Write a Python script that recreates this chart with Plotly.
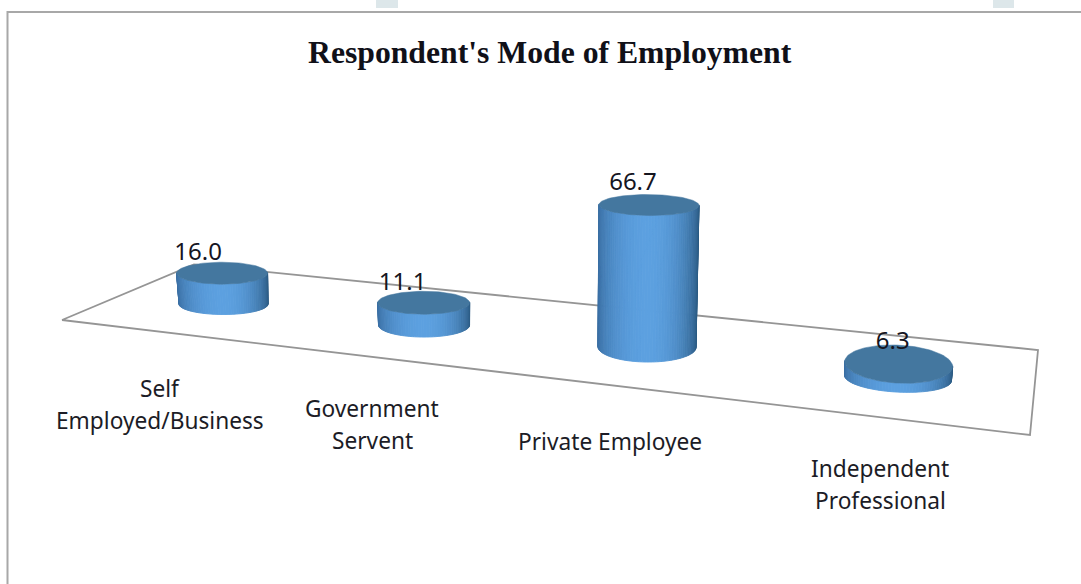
import numpy as np
import plotly.graph_objects as go

# Chart content
title = "Respondent's Mode of Employment"
categories = ["Self<br>Employed/Business", "Government<br>Servent", "Private Employee", "Independent<br>Professional"]
values = [16.0, 11.1, 66.7, 6.3]

# Camera: canvas pixels of the floor corners (left-front, right-front, right-back, left-back)
FLOOR = [(62, 320), (1030, 435), (1038, 350), (194, 264.5)]
VERTICAL_VP = (549.0, 7305.0)
Z_GAIN = -0.02 / 66.7

# Where each cylinder stands on the floor: along the axis, and front (0) to back (1)
axis_pos = [0.516, 1.494, 2.479, 3.498]
depth_row = [0.448, 0.462, 0.494, 0.451]

# Elliptical outlines of the cylinders on screen
top_rx = [45.5, 46.0, 50.0, 54.0]
top_ry = [11.0, 11.5, 10.5, 19.0]
base_rx = [44.5, 45.5, 49.0, 53.5]
base_ry = [10.5, 12.0, 15.0, 14.0]
tilt_deg = [0.0, 0.0, 0.5, 3.0]

# Offsets of labels relative to the projected anchor
value_offsets = [(-24, -19), (-21, -18.5), (-16, -21), (-6, -21)]
cat_label_x = [160, 372, 610, 880]
cat_label_y = [388, 408, 441, 468]
LINE_STEP = 32


def floor_homography(corners):
    src = [(0, 0), (4, 0), (4, 1), (0, 1)]
    A, b = [], []
    for (u, v), (x, y) in zip(src, corners):
        A.append([u, v, 1, 0, 0, 0, -u * x, -v * x])
        A.append([0, 0, 0, u, v, 1, -u * y, -v * y])
        b += [x, y]
    h = np.linalg.solve(np.array(A, float), np.array(b, float))
    return np.array([[h[0], h[1], h[2]], [h[3], h[4], h[5]], [h[6], h[7], 1.0]])


H = floor_homography(FLOOR)
w_mid = H[2] @ np.array([2.5, 0.5, 1.0])
z_col = Z_GAIN * w_mid * np.array([VERTICAL_VP[0], VERTICAL_VP[1], 1.0])


def project(u, v, z):
    """Chart space (category position, depth, value) to axis coordinates."""
    p = H @ np.array([u, v, 1.0]) + z_col * z
    return p[0] / p[2], p[1] / p[2]


def ellipse(center, rx, ry, tilt, angles):
    cx, cy = center
    phi = np.radians(tilt)
    ex, ey = rx * np.cos(angles), ry * np.sin(angles)
    return cx + ex * np.cos(phi) - ey * np.sin(phi), cy + ex * np.sin(phi) + ey * np.cos(phi)


def mix(c0, c1, t):
    return "rgb({},{},{})".format(*[int(round(a + (b - a) * t)) for a, b in zip(c0, c1)])


LEFT_EDGE = (56, 108, 160)
CENTER = (92, 160, 224)
RIGHT_EDGE = (42, 88, 128)
CAP = "#44779f"

fig = go.Figure()


def add_poly(xs, ys, color, edge=0.9):
    fig.add_trace(go.Scatter(x=list(xs), y=list(ys), mode="lines", fill="toself",
                             fillcolor=color, line=dict(color=color, width=edge),
                             hoverinfo="skip", showlegend=False))


# Floor outline
fx = [c[0] for c in FLOOR] + [FLOOR[0][0]]
fy = [c[1] for c in FLOOR] + [FLOOR[0][1]]
fig.add_trace(go.Scatter(x=fx, y=fy, mode="lines", line=dict(color="#959595", width=1.8),
                         hoverinfo="skip", showlegend=False))

# Cylinders: shaded front of the side wall, then the flat top
front = np.linspace(-0.06, np.pi + 0.06, 57)
full = np.linspace(0, 2 * np.pi, 121)
label_x, label_y, label_text = [], [], []
for k, val in enumerate(values):
    uc, vc = axis_pos[k], depth_row[k]
    base_c = project(uc, vc, 0.0)
    top_c = project(uc, vc, val)
    bx, by = ellipse(base_c, base_rx[k], base_ry[k], tilt_deg[k], front)
    tx, ty = ellipse(top_c, top_rx[k], top_ry[k], tilt_deg[k], front)
    for i in np.argsort(-np.abs(np.cos(front[:-1]))):
        t = float(np.cos((front[i] + front[i + 1]) / 2))
        shade = max(0.0, 1 - t * t) ** 0.7
        color = mix(RIGHT_EDGE if t > 0 else LEFT_EDGE, CENTER, shade)
        add_poly([bx[i], bx[i + 1], tx[i + 1], tx[i], bx[i]],
                 [by[i], by[i + 1], ty[i + 1], ty[i], by[i]], color)
    cap_x, cap_y = ellipse(top_c, top_rx[k], top_ry[k], tilt_deg[k], full)
    add_poly(cap_x, cap_y, CAP, edge=0.5)
    label_x.append(top_c[0] + value_offsets[k][0])
    label_y.append(top_c[1] + value_offsets[k][1])
    label_text.append(f"{val:.1f}")

# Value labels
fig.add_trace(go.Scatter(x=label_x, y=label_y, text=label_text, mode="text",
                         textposition="middle center",
                         textfont=dict(family="Noto Sans", size=24, color="#15151f"),
                         hoverinfo="skip", showlegend=False))

# Category labels, one text per line for the wide line spacing
for name, x0, y0 in zip(categories, cat_label_x, cat_label_y):
    for j, line in enumerate(name.split("<br>")):
        fig.add_annotation(x=x0, y=y0 + j * LINE_STEP, text=line, showarrow=False,
                           xanchor="center", yanchor="middle",
                           font=dict(family="Noto Sans", size=22.7, color="#1c1c26"))

fig.add_annotation(x=550, y=52, text=f"<b>{title}</b>", showarrow=False,
                   xanchor="center", yanchor="middle",
                   font=dict(family="Liberation Serif", size=31.7, color="#101018"))

# Frame around the chart, open at the cropped right and bottom sides
frame = dict(type="path", path="M 7.5 584 L 7.5 12 L 1081 12", xref="x", yref="y",
             line=dict(color="#a8a8a8", width=2), layer="below")
# Faint remains of the page watermark above the frame
marks = [dict(type="rect", xref="x", yref="y", x0=x0, x1=x1, y0=0, y1=8,
              fillcolor="#dde7ea", line_width=0, layer="below")
         for x0, x1 in [(376, 398), (993, 1014)]]

fig.update_layout(
    width=1081, height=584, margin=dict(l=0, r=0, t=0, b=0),
    paper_bgcolor="white", plot_bgcolor="white", showlegend=False,
    xaxis=dict(range=[0, 1081], visible=False, fixedrange=True),
    yaxis=dict(range=[584, 0], visible=False, fixedrange=True),
    shapes=[frame] + marks,
)
fig.write_html("out.html", config=dict(displayModeBar=False))
